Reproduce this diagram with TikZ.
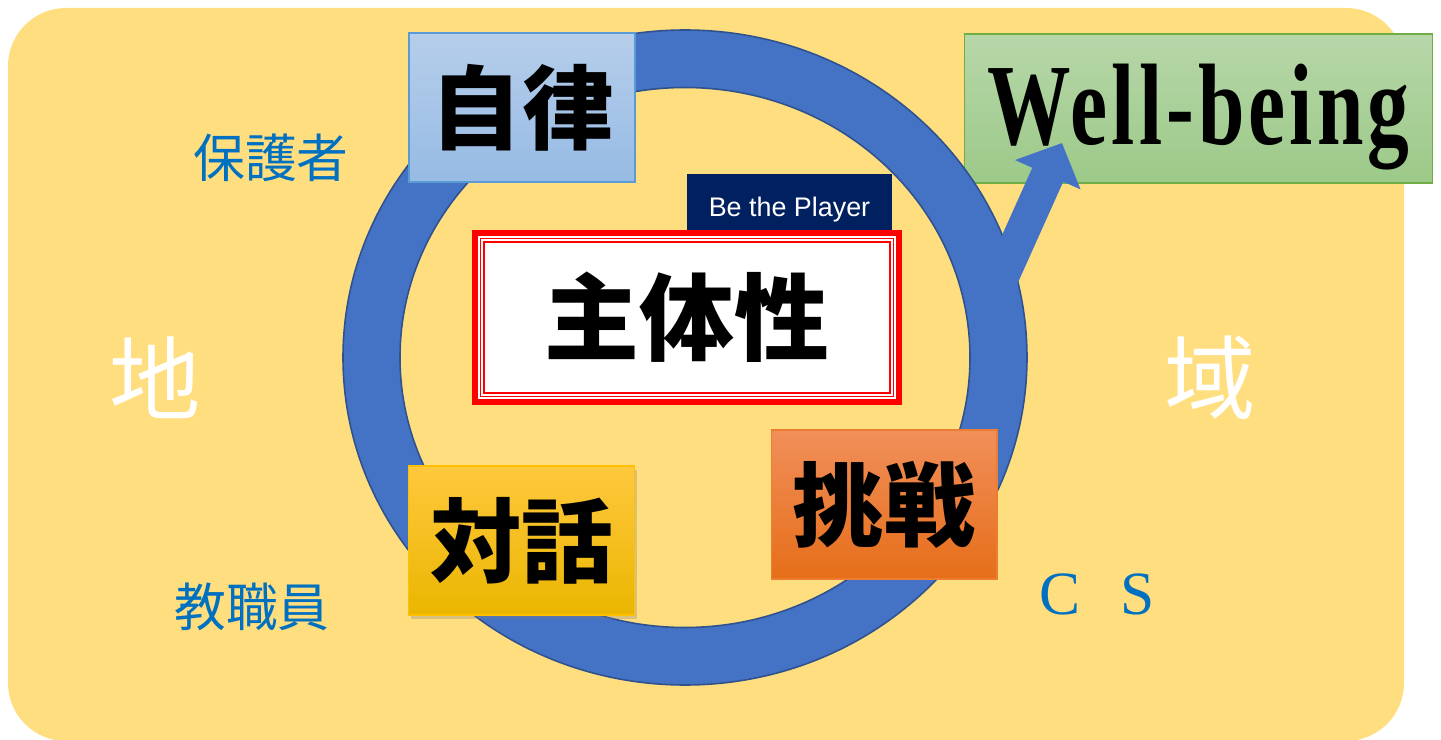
\documentclass[tikz,border=0pt]{standalone}
\usepackage{fontspec}
\usetikzlibrary{arrows.meta,shadows,calc}

\newfontfamily\jpfont{Noto Sans CJK JP}
\newfontfamily\latinfont{Liberation Serif}
\newfontfamily\wellfont[FakeStretch=0.72, LetterSpace=3.5]{Liberation Serif}
\newfontfamily\playerfont{Liberation Sans}

\definecolor{bgyellow}{RGB}{255,222,128}
\definecolor{ringblue}{RGB}{68,114,196}
\definecolor{ringedge}{RGB}{47,82,143}
\definecolor{textblue}{RGB}{0,112,192}
\definecolor{navy}{RGB}{0,32,96}
\definecolor{bluetop}{RGB}{182,206,235}
\definecolor{bluebot}{RGB}{150,187,228}
\definecolor{blueedge}{RGB}{91,155,213}
\definecolor{greentop}{RGB}{183,215,169}
\definecolor{greenbot}{RGB}{156,201,136}
\definecolor{greenedge}{RGB}{112,173,71}
\definecolor{orangetop}{RGB}{241,143,90}
\definecolor{orangebot}{RGB}{230,110,25}
\definecolor{orangeedge}{RGB}{237,125,49}
\definecolor{goldtop}{RGB}{255,200,62}
\definecolor{goldmid}{RGB}{255,192,0}
\definecolor{goldbot}{RGB}{234,182,0}

\begin{document}
\begin{tikzpicture}[x=0.02cm, y=-0.02cm,
    box/.style={rectangle, draw, line width=0.6pt, inner sep=0pt, minimum width=4.52cm, minimum height=2.98cm, font=\jpfont\bfseries\fontsize{52}{60}\selectfont},
    mainbox/.style={rectangle, draw=red, line width=3.4pt, fill=white, inner sep=0pt, minimum width=8.48cm, minimum height=3.38cm, font=\jpfont\bfseries\fontsize{54}{62}\selectfont},
    innerframe/.style={draw=red, line width=0.7pt, double=white, double distance=1.2pt},
    player/.style={rectangle, fill=navy, text=white, inner sep=0pt, minimum width=4.1cm, minimum height=1.44cm, font=\playerfont\fontsize{15.3}{18}\selectfont},
    wellbox/.style={rectangle, draw=greenedge, line width=0.6pt, top color=greentop, bottom color=greenbot, inner sep=0pt, minimum width=9.38cm, minimum height=2.98cm, text height=1.46cm, text depth=0pt, font=\wellfont\bfseries\fontsize{66}{70}\selectfont},
    side/.style={text=textblue, font=\jpfont\fontsize{29.5}{34}\selectfont},
    region/.style={text=white, font=\jpfont\fontsize{52}{58}\selectfont},
    ring/.style={fill=ringblue, draw=ringedge, line width=0.9pt, even odd rule},
    arrow/.style={draw=ringblue, line width=19.3pt, -{Triangle[length=19.8pt, width=39.7pt]}}]

    \useasboundingbox (0,0) rectangle (1441,740);

    % Background panel
    \fill [bgyellow, rounded corners=1.16cm] (8,8) rectangle (1404,741);

    % Node for the goal
    \node [wellbox] (wellbeing) at (1198.5,108.5) {Well-being};

    % The cycle ring and its exit arrow
    \filldraw [ring] (685,357.5) ellipse [x radius=342, y radius=327.5]
                     (685,357.5) ellipse [x radius=285, y radius=270];
    \coordinate (arrowstart) at (1001,279);
    \coordinate (arrowtip) at (1062,143);
    \draw [arrow] (arrowstart) -- (arrowtip);

    % Nodes on the ring
    \node [box, draw=blueedge, top color=bluetop, bottom color=bluebot] (jiritsu) at (522,107.5) {自律};

    % Node for the centre
    \node [player] (player) at (789.5,210) {Be the Player};
    \node [mainbox] (shutai) at (687,317.5) {主体性};
    \draw [innerframe] ($(shutai.north west)+(10.3,10.3)$) rectangle ($(shutai.south east)+(-10.3,-10.3)$);

    \node [box, draw=goldmid, top color=goldtop, middle color=goldmid, bottom color=goldbot,
           drop shadow={shadow xshift=1.5pt, shadow yshift=-2pt, opacity=0.3}] (taiwa) at (521.5,540.5) {対話};
    \node [box, draw=orangeedge, top color=orangetop, bottom color=orangebot] (chosen) at (884,504.5) {挑戦};

    % Surrounding labels
    \node [side] (hogosha) at (271,158) {保護者};
    \node [side] (kyoshokuin) at (252,607) {教職員};
    \node [region] (chi) at (155,378) {地};
    \node [region] (iki) at (1210,378) {域};
    \node [text=textblue, font=\latinfont\fontsize{35}{40}\selectfont] (cs) at (1097,594) {C\hspace{0.65em}S};
\end{tikzpicture}
\end{document}
